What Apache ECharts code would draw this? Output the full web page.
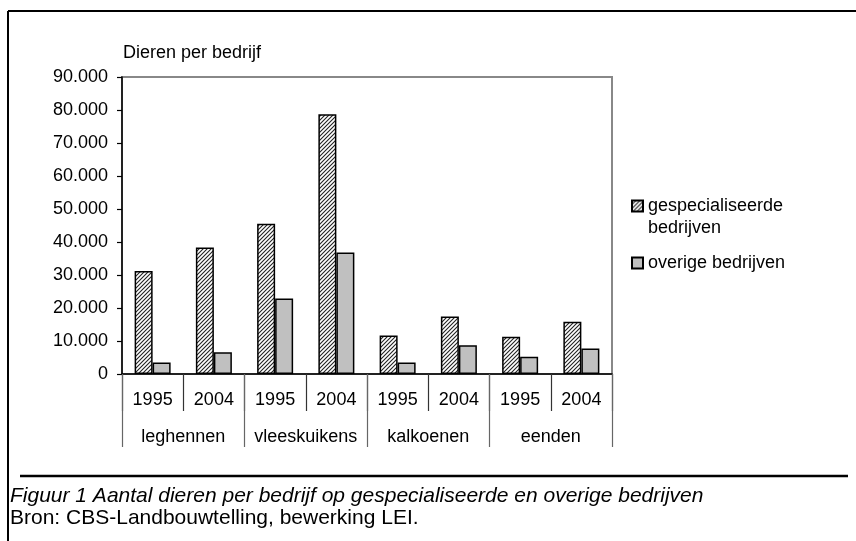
<!DOCTYPE html>
<html>
<head>
<meta charset="utf-8">
<script src="https://cdn.jsdelivr.net/npm/echarts@6/dist/echarts.min.js"></script>
<style>
html, body { margin: 0; padding: 0; background: #fff; }
#main { width: 856px; height: 541px; }
</style>
</head>
<body>
<div id="main"></div>
<script>
// gegevens
var jaren = ['1995', '2004', '1995', '2004', '1995', '2004', '1995', '2004'];
var diersoorten = ['leghennen', 'vleeskuikens', 'kalkoenen', 'eenden'];
var gespecialiseerd = [31200, 38300, 45500, 78700, 11700, 17400, 11300, 15800];
var overig = [3500, 6600, 22900, 36800, 3500, 8700, 5200, 7700];
var reeksNamen = ['gespecialiseerde bedrijven', 'overige bedrijven'];

var font = "'Liberation Sans', Arial, sans-serif";
var fs = 18;
var fsOnderschrift = 21;

// arcering voor de gespecialiseerde bedrijven
function maakArcering() {
    var c = document.createElement('canvas');
    c.width = 4; c.height = 4;
    var ctx = c.getContext('2d');
    ctx.fillStyle = '#fff';
    ctx.fillRect(0, 0, 4, 4);
    ctx.strokeStyle = '#222';
    ctx.lineWidth = 1.1;
    ctx.beginPath();
    ctx.moveTo(-1, 5); ctx.lineTo(5, -1);
    ctx.moveTo(-1, 1); ctx.lineTo(1, -1);
    ctx.moveTo(3, 5); ctx.lineTo(5, 3);
    ctx.stroke();
    return c;
}

function duizendtal(v) {
    if (v === 0) return '0';
    var s = String(v);
    return s.slice(0, s.length - 3) + '.' + s.slice(-3);
}

// eerste legendaregel op hoogte van het icoon: lege regel erboven
function legendaTekst(naam) {
    if (naam === reeksNamen[0]) return '{s| }\n{t|gespecialiseerde}\n{t|bedrijven}';
    return '{t|' + naam + '}';
}

var chart = echarts.init(document.getElementById('main'));

var option = {
    animation: false,
    backgroundColor: '#fff',
    textStyle: { fontFamily: font },
    title: [{
        text: 'Dieren per bedrijf',
        left: 123, top: 44, padding: 0,
        textStyle: { fontFamily: font, fontSize: fs, fontWeight: 'normal', color: '#000' }
    }, {
        text: 'Figuur 1 Aantal dieren per bedrijf op gespecialiseerde en overige bedrijven',
        subtext: 'Bron: CBS-Landbouwtelling, bewerking LEI.',
        left: 10, top: 486, padding: 0, itemGap: 1,
        textStyle: { fontFamily: font, fontSize: fsOnderschrift, fontWeight: 'normal', fontStyle: 'italic', color: '#000' },
        subtextStyle: { fontFamily: font, fontSize: fsOnderschrift, color: '#000' }
    }],
    legend: {
        orient: 'vertical',
        left: 631, top: 175, padding: 0,
        itemWidth: 11, itemHeight: 11, itemGap: 17,
        icon: 'rect',
        formatter: legendaTekst,
        textStyle: {
            fontFamily: font, fontSize: fs, color: '#000',
            rich: {
                s: { fontSize: fs, lineHeight: 22 },
                t: { fontFamily: font, fontSize: fs, color: '#000', lineHeight: 22 }
            }
        },
        data: reeksNamen
    },
    grid: {
        left: 122, right: 244, top: 77, bottom: 167,
        show: true, borderColor: '#888', borderWidth: 2, backgroundColor: '#fff'
    },
    xAxis: [{
        type: 'category',
        data: jaren,
        position: 'bottom',
        axisLine: { lineStyle: { color: '#000', width: 1.5 } },
        axisTick: { show: true, interval: 0, length: 37, lineStyle: { color: '#333', width: 1.2 } },
        axisLabel: { interval: 0, margin: 17, fontFamily: font, fontSize: fs, color: '#000' }
    }, {
        type: 'category',
        data: diersoorten,
        position: 'bottom',
        axisLine: { show: false },
        axisTick: { show: true, interval: 0, length: 73, lineStyle: { color: '#666', width: 1.2 } },
        axisLabel: { interval: 0, margin: 54, fontFamily: font, fontSize: fs, color: '#000' }
    }],
    yAxis: {
        type: 'value',
        min: 0, max: 90000, interval: 10000,
        axisLine: { show: true, lineStyle: { color: '#000', width: 1.5 } },
        axisTick: { show: true, length: 5, lineStyle: { color: '#000', width: 1.2 } },
        splitLine: { show: false },
        axisLabel: { margin: 14, fontFamily: font, fontSize: fs, color: '#000', formatter: duizendtal }
    },
    series: [{
        name: reeksNamen[0],
        type: 'bar',
        xAxisIndex: 0,
        barWidth: 18,
        barGap: 0,
        itemStyle: {
            color: { image: maakArcering(), repeat: 'repeat' },
            borderColor: '#000', borderWidth: 1.5
        },
        data: gespecialiseerd
    }, {
        name: reeksNamen[1],
        type: 'bar',
        xAxisIndex: 0,
        barWidth: 18,
        barGap: 0,
        itemStyle: { color: '#c0c0c0', borderColor: '#000', borderWidth: 1.5 },
        data: overig
    }],
    graphic: [
        { type: 'line', shape: { x1: 8, y1: 11, x2: 856, y2: 11 }, style: { stroke: '#000', lineWidth: 2 } },
        { type: 'line', shape: { x1: 8, y1: 11, x2: 8, y2: 541 }, style: { stroke: '#000', lineWidth: 2 } },
        { type: 'line', shape: { x1: 20, y1: 476, x2: 848, y2: 476 }, style: { stroke: '#000', lineWidth: 2.5 } }
    ]
};

chart.setOption(option);
</script>
</body>
</html>
